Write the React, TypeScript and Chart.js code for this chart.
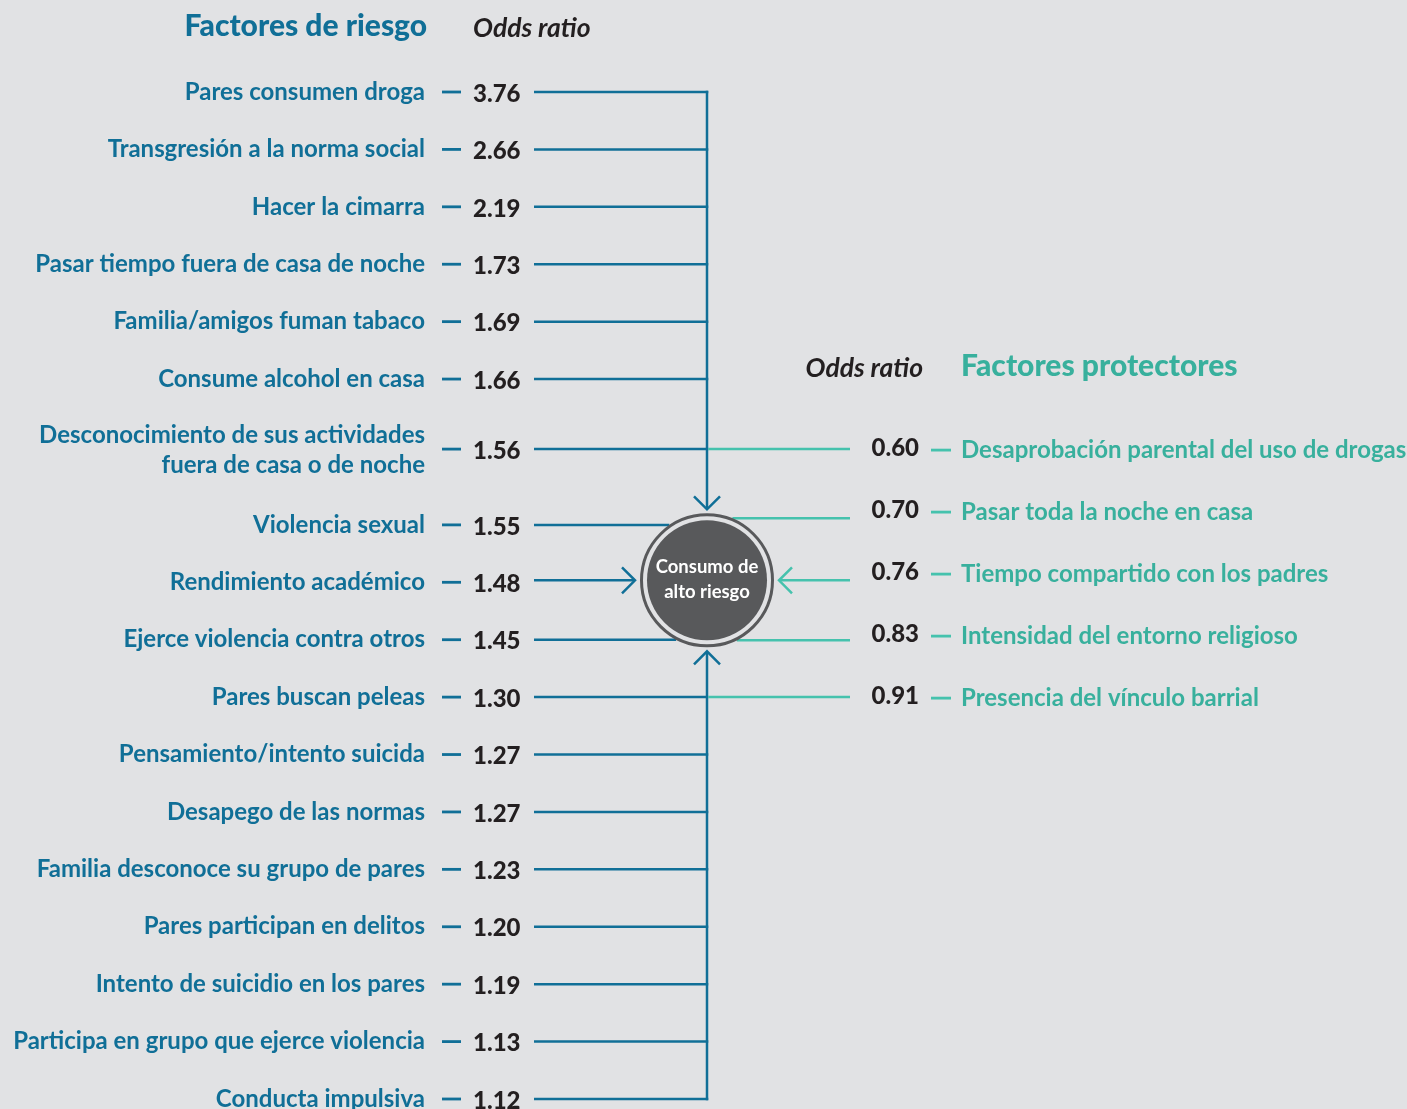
import React, { useEffect, useRef } from "react";
import { Chart, registerables } from "chart.js";

Chart.register(...registerables);

const riskLabels: string[][] = [
  ["Pares consumen droga"],
  ["Transgresión a la norma social"],
  ["Hacer la cimarra"],
  ["Pasar tiempo fuera de casa de noche"],
  ["Familia/amigos fuman tabaco"],
  ["Consume alcohol en casa"],
  ["Desconocimiento de sus actividades", "fuera de casa o de noche"],
  ["Violencia sexual"],
  ["Rendimiento académico"],
  ["Ejerce violencia contra otros"],
  ["Pares buscan peleas"],
  ["Pensamiento/intento suicida"],
  ["Desapego de las normas"],
  ["Familia desconoce su grupo de pares"],
  ["Pares participan en delitos"],
  ["Intento de suicidio en los pares"],
  ["Participa en grupo que ejerce violencia"],
  ["Conducta impulsiva"],
];
const riskOdds: number[] = [3.76, 2.66, 2.19, 1.73, 1.69, 1.66, 1.56, 1.55, 1.48, 1.45, 1.3, 1.27, 1.27, 1.23, 1.2, 1.19, 1.13, 1.12];

const protLabels: string[] = [
  "Desaprobación parental del uso de drogas",
  "Pasar toda la noche en casa",
  "Tiempo compartido con los padres",
  "Intensidad del entorno religioso",
  "Presencia del vínculo barrial",
];
const protOdds: number[] = [0.6, 0.7, 0.76, 0.83, 0.91];

const titleRisk = "Factores de riesgo";
const titleProt = "Factores protectores";
const oddsTitle = "Odds ratio";
const centerText = ["Consumo de", "alto riesgo"];

const BLUE = "#106f97";
const TEAL_LINE = "#45c2ad";
const TEAL_TEXT = "#38b09d";
const BLACK = "#231f20";
const BG = "#e1e2e4";
const FONT = "Lato, 'Noto Sans', sans-serif";

// row positions (in row units): a two-line label takes extra room
function rowPositions(): number[] {
  const pos: number[] = [];
  let p = 0;
  riskLabels.forEach((l, i) => {
    if (i > 0) {
      p += 1;
      if (l.length > 1) p += 0.22;
      if (riskLabels[i - 1].length > 1) p += 0.32;
    }
    pos.push(p);
  });
  return pos;
}

const diagramPlugin = {
  id: "diagram",
  beforeDraw(chart: any) {
    const ctx = chart.ctx;
    ctx.save();
    ctx.fillStyle = BG;
    ctx.fillRect(0, 0, chart.width, chart.height);
    ctx.restore();
  },
  afterDatasetsDraw(chart: any) {
    const ctx: CanvasRenderingContext2D = chart.ctx;
    const xs = chart.scales.x;
    const ys = chart.scales.y;
    const X = (v: number) => xs.getPixelForValue(v);
    const Y = (v: number) => ys.getPixelForValue(v);
    const pos = rowPositions();
    const centerIdx = 8;
    const cx = X(707);
    const cy = Y(pos[centerIdx]) - 2;
    const R = 67;
    const labelRight = X(425);
    const dashL0 = X(442), dashL1 = X(461);
    const valLeft = X(473);
    const lineStart = X(534);

    ctx.save();
    ctx.lineCap = "butt";

    const arrowHead = (tx: number, ty: number, dx: number, dy: number, color: string) => {
      const s = 13;
      ctx.strokeStyle = color;
      ctx.lineWidth = 2.5;
      ctx.beginPath();
      const px = -dy, py = dx;
      ctx.moveTo(tx - dx * s + px * s, ty - dy * s + py * s);
      ctx.lineTo(tx, ty);
      ctx.lineTo(tx - dx * s - px * s, ty - dy * s - py * s);
      ctx.stroke();
    };
    const hline = (x0: number, x1: number, y: number, color: string, w = 2.5) => {
      ctx.strokeStyle = color;
      ctx.lineWidth = w;
      ctx.beginPath();
      ctx.moveTo(x0, y);
      ctx.lineTo(x1, y);
      ctx.stroke();
    };
    const edgeX = (y: number, side: number) => {
      const dy = y - cy;
      const d = Math.sqrt(Math.max(0, R * R - dy * dy));
      return cx + side * d;
    };

    // headers
    ctx.textBaseline = "middle";
    ctx.fillStyle = BLUE;
    ctx.font = `900 30px ${FONT}`;
    ctx.textAlign = "right";
    ctx.fillText(titleRisk, X(427), Y(pos[0]) - 66);
    ctx.fillStyle = BLACK;
    ctx.font = `italic 700 26.5px ${FONT}`;
    ctx.textAlign = "left";
    ctx.fillText(oddsTitle, valLeft, Y(pos[0]) - 64);

    // left rows
    riskLabels.forEach((lines, i) => {
      const y = Y(pos[i]);
      ctx.fillStyle = BLUE;
      ctx.font = `700 24px ${FONT}`;
      ctx.textAlign = "right";
      if (lines.length === 1) {
        ctx.fillText(lines[0], labelRight, y);
      } else {
        ctx.fillText(lines[0], labelRight, y - 14);
        ctx.fillText(lines[1], labelRight, y + 16);
      }
      hline(dashL0, dashL1, y, BLUE, 2.8);
      ctx.fillStyle = BLACK;
      ctx.font = `900 24px ${FONT}`;
      ctx.textAlign = "left";
      ctx.fillText(riskOdds[i].toFixed(2), valLeft, y + 2);
      // connector
      if (i < 7 || i > 9) {
        hline(lineStart, cx + 1.25, y, BLUE);
      } else if (i === centerIdx) {
        hline(lineStart, edgeX(cy, -1) - 6, cy, BLUE);
        arrowHead(edgeX(cy, -1) - 5, cy, 1, 0, BLUE);
      } else {
        hline(lineStart, edgeX(y, -1), y, BLUE);
      }
    });

    // vertical trunk
    ctx.strokeStyle = BLUE;
    ctx.lineWidth = 2.5;
    ctx.beginPath();
    ctx.moveTo(cx, Y(pos[0]) - 1.25);
    ctx.lineTo(cx, cy - R - 5);
    ctx.moveTo(cx, Y(pos[pos.length - 1]) + 1.25);
    ctx.lineTo(cx, cy + R + 5);
    ctx.stroke();
    arrowHead(cx, cy - R - 4, 0, 1, BLUE);
    arrowHead(cx, cy + R + 4, 0, -1, BLUE);

    // right side
    const rTop = pos[6], rBot = pos[10];
    const protPos = protLabels.map((_, j) => rTop + ((rBot - rTop) * j) / (protLabels.length - 1));
    const rLineEnd = X(850);
    const rValRight = X(919);
    const rDash0 = X(931), rDash1 = X(951);
    const rLabelLeft = X(961);

    ctx.fillStyle = BLACK;
    ctx.font = `italic 700 26.5px ${FONT}`;
    ctx.textAlign = "right";
    ctx.fillText(oddsTitle, X(923), Y(protPos[0]) - 81);
    ctx.fillStyle = TEAL_TEXT;
    ctx.font = `900 30px ${FONT}`;
    ctx.textAlign = "left";
    ctx.fillText(titleProt, rLabelLeft, Y(protPos[0]) - 83);

    protLabels.forEach((lab, j) => {
      const y = Y(protPos[j]);
      ctx.fillStyle = BLACK;
      ctx.font = `900 24px ${FONT}`;
      ctx.textAlign = "right";
      ctx.fillText(protOdds[j].toFixed(2), rValRight, y - 1);
      hline(rDash0, rDash1, y + 1, TEAL_LINE, 2.8);
      ctx.fillStyle = TEAL_TEXT;
      ctx.font = `700 24px ${FONT}`;
      ctx.textAlign = "left";
      ctx.fillText(lab, rLabelLeft, y + 1);
      if (j === 0 || j === protLabels.length - 1) {
        hline(cx + 1.25, rLineEnd, y, TEAL_LINE);
      } else if (j === 2) {
        hline(edgeX(cy, 1) + 6, rLineEnd, cy, TEAL_LINE);
        arrowHead(edgeX(cy, 1) + 5, cy, -1, 0, TEAL_LINE);
      } else {
        const ly = j < 2 ? cy - 62 : cy + 60;
        hline(edgeX(ly, 1), rLineEnd, ly, TEAL_LINE);
      }
    });

    // circle
    ctx.beginPath();
    ctx.arc(cx, cy, R - 1.5, 0, Math.PI * 2);
    ctx.fillStyle = BG;
    ctx.fill();
    ctx.lineWidth = 3;
    ctx.strokeStyle = "#58595b";
    ctx.stroke();
    ctx.beginPath();
    ctx.arc(cx, cy, R - 7, 0, Math.PI * 2);
    ctx.fillStyle = "#58595b";
    ctx.fill();
    ctx.fillStyle = "#ffffff";
    ctx.font = `700 18.5px ${FONT}`;
    ctx.textAlign = "center";
    ctx.fillText(centerText[0], cx, cy - 13);
    ctx.fillText(centerText[1], cx, cy + 12);

    ctx.restore();
  },
};

export default function App() {
  const ref = useRef<HTMLCanvasElement | null>(null);
  useEffect(() => {
    document.body.style.margin = "0";
    document.body.style.background = BG;
    const pos = rowPositions();
    const first = 92, last = 1099, H = 1109;
    const unit = (last - first) / pos[pos.length - 1];
    const yMin = -first / unit;
    const yMax = yMin + H / unit;
    const chart = new Chart(ref.current as HTMLCanvasElement, {
      type: "scatter",
      data: { datasets: [{ data: [], pointRadius: 0 }] },
      options: {
        animation: false,
        responsive: false,
        maintainAspectRatio: false,
        layout: { padding: 0 },
        plugins: { legend: { display: false }, tooltip: { enabled: false } },
        scales: {
          x: { type: "linear", min: 0, max: 1407, display: false },
          y: { type: "linear", min: yMin, max: yMax, reverse: true, display: false },
        },
      },
      plugins: [diagramPlugin],
    });
    return () => chart.destroy();
  }, []);
  return <canvas ref={ref} width={1407} height={1109} style={{ display: "block" }} />;
}
